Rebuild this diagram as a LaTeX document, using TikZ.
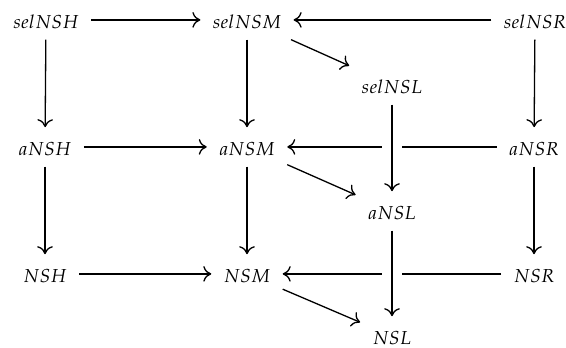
\documentclass[tikz,border=0pt]{standalone}
\usepackage{mathpazo}
\usetikzlibrary{arrows.meta}

\begin{document}
\begin{tikzpicture}[
  x=0.575pt, y=-0.575pt,
  obj/.style={anchor=base, inner xsep=7pt, inner ysep=6.5pt,
              text height=9.3pt, text depth=0pt,
              font=\fontsize{10.8}{13}\selectfont},
  arr/.style={line width=0.75pt,
              -{Computer Modern Rightarrow[length=4.6pt,width=9pt,line width=0.75pt]}},
  over/.style={arr, preaction={draw=white, line width=11.5pt, -}}
]
\useasboundingbox (0,0) rectangle (566,347);

% back face: selection level
\node[obj] (selH) at (46,28)  {$selNSH$};
\node[obj] (selM) at (247,28) {$selNSM$};
\node[obj] (selR) at (535,28) {$selNSR$};
\node[obj] (selL) at (392,93) {$selNSL$};

% middle level
\node[obj] (aH) at (45,155)  {$aNSH$};
\node[obj] (aM) at (247,155) {$aNSM$};
\node[obj] (aR) at (534,155) {$aNSR$};
\node[obj] (aL) at (392,219) {$aNSL$};

% bottom level
\node[obj] (nH) at (45,282)  {$NSH$};
\node[obj] (nM) at (247,282) {$NSM$};
\node[obj] (nR) at (534,282) {$NSR$};
\node[obj] (nL) at (392,344) {$NSL$};

% horizontal maps
\draw[arr] (selH) -- (selM);
\draw[arr] (selR) -- (selM);
\draw[arr] (selM) -- (selL);
\draw[arr] (aH) -- (aM);
\draw[arr] (aR) -- (aM);
\draw[arr] (aM) -- (aL);
\draw[arr] (nH) -- (nM);
\draw[arr] (nR) -- (nM);
\draw[arr] (nM) -- (nL);

% vertical maps
\draw[arr] (selH) -- (aH);
\draw[arr] (selM) -- (aM);
\draw[arr] (selR) -- (aR);
\draw[arr] (aH) -- (nH);
\draw[arr] (aM) -- (nM);
\draw[arr] (aR) -- (nR);

% front verticals cross over the horizontal maps
\draw[over] (selL) -- (aL);
\draw[over] (aL) -- (nL);
\end{tikzpicture}
\end{document}
